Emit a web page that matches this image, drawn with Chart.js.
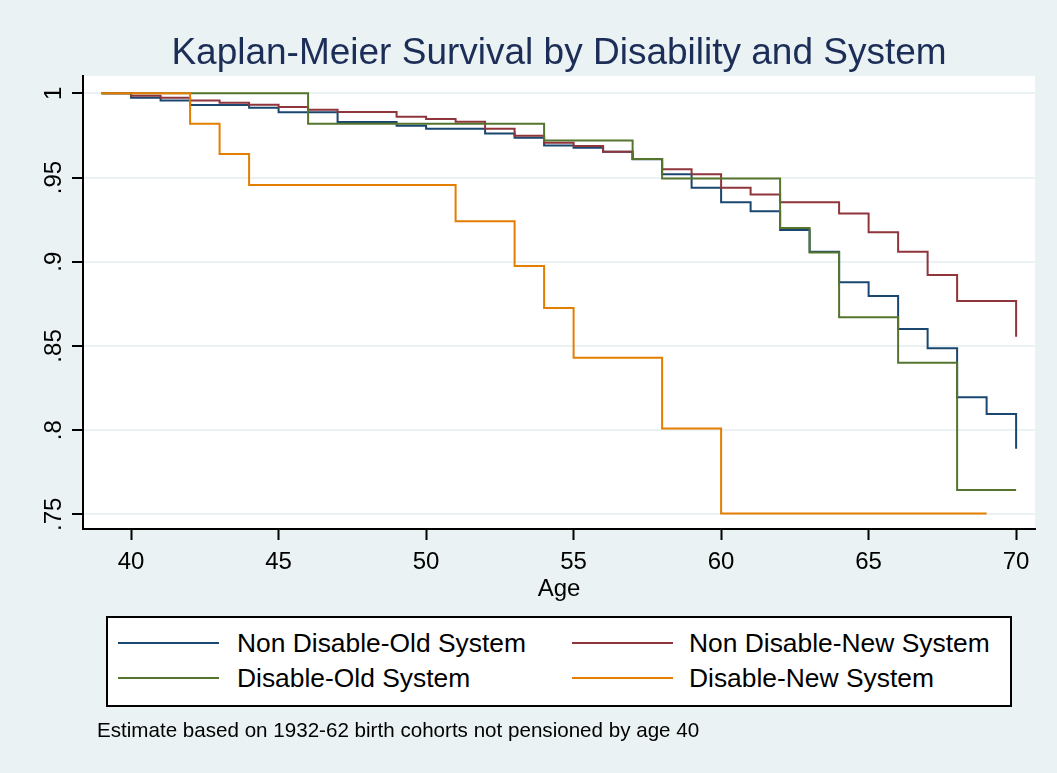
<!DOCTYPE html>
<html>
<head>
<meta charset="utf-8">
<script src="https://cdn.jsdelivr.net/npm/chart.js@4.4.1/dist/chart.umd.min.js"></script>
<style>
body{margin:0;background:#eaf2f3;font-family:"Liberation Sans",Arial,sans-serif;}
#wrap{position:relative;width:1057px;height:773px;overflow:hidden;}
#chart{position:absolute;left:0;top:0;}
#title{position:absolute;left:83px;width:952px;top:30px;text-align:center;font-size:37px;line-height:44px;color:#1c2e58;white-space:nowrap;}
#legend{position:absolute;left:106px;top:616px;width:902px;height:87px;border:2px solid #000;background:#fff;}
.item{position:absolute;font-size:26.4px;line-height:30px;color:#000;white-space:nowrap;}
.swatch{position:absolute;height:2px;width:101px;}
#note{position:absolute;left:97px;top:717.5px;font-size:20.6px;line-height:24px;color:#000;white-space:nowrap;}
</style>
</head>
<body>
<div id="wrap">
  <canvas id="chart" width="1057" height="773"></canvas>
  <div id="title">Kaplan-Meier Survival by Disability and System</div>
  <div id="legend"></div>
  <div id="note">Estimate based on 1932-62 birth cohorts not pensioned by age 40</div>
</div>
<script>
// survival steps (age at which the curve drops, new level)
const seriesNames=['Non Disable-Old System','Non Disable-New System','Disable-Old System','Disable-New System'];
const seriesColors=['#1a476f','#90353b','#55752f','#e37e00'];

const agesNonOld=[39,40,41,42,44,45,47,49,50,52,53,54,55,56,57,58,59,60,61,62,63,64,65,66,67,68,69,70];
const survNonOld=[1,0.9974,0.9958,0.9931,0.9915,0.9887,0.983,0.9808,0.979,0.9762,0.9736,0.9691,0.9677,0.9653,0.9608,0.952,0.944,0.9353,0.930,0.9188,0.906,0.8878,0.8796,0.860,0.8486,0.8195,0.8096,0.789];

const agesNonNew=[39,40,41,42,43,44,45,46,47,49,50,51,52,53,54,55,56,57,58,59,60,61,62,64,65,66,67,68,70];
const survNonNew=[1,0.9986,0.9974,0.9958,0.9944,0.9932,0.9919,0.9903,0.9889,0.9861,0.9847,0.9831,0.979,0.9748,0.9707,0.9687,0.9653,0.961,0.9549,0.952,0.944,0.940,0.9353,0.9287,0.9175,0.906,0.8921,0.8767,0.8555];

const agesDisOld=[39,46,54,57,58,62,63,64,66,68,70];
const survDisOld=[1,0.982,0.972,0.961,0.9495,0.92,0.9055,0.867,0.840,0.7645,0.7645];

const agesDisNew=[39,42,43,44,51,53,54,55,58,60,69];
const survDisNew=[1,0.982,0.964,0.9455,0.924,0.8975,0.8725,0.843,0.801,0.7505,0.7505];

const xTicks=[40,45,50,55,60,65,70];
const yTicks=[0.75,0.8,0.85,0.9,0.95,1];

const allAges=[agesNonOld,agesNonNew,agesDisOld,agesDisNew];
const allSurv=[survNonOld,survNonNew,survDisOld,survDisNew];

const BG='#eaf2f3';
const FONT='"Liberation Sans", Arial, sans-serif';

const plotBg={
  id:'plotBg',
  beforeDraw(chart){
    const {ctx,chartArea:a}=chart;
    ctx.save(); ctx.fillStyle='#fff'; ctx.fillRect(a.left,a.top,a.right-a.left,a.bottom-a.top); ctx.restore();
  }
};

const datasets=seriesNames.map((name,i)=>({
  label:name,
  data:allAges[i].map((a,j)=>({x:a,y:allSurv[i][j]})),
  borderColor:seriesColors[i],
  borderWidth:2,
  pointRadius:0,
  stepped:true,
  fill:false,
  order:4-i   // later series drawn on top, like Stata
}));

new Chart(document.getElementById('chart'),{
  type:'line',
  data:{datasets},
  plugins:[plotBg],
  options:{
    responsive:false,
    animation:false,
    devicePixelRatio:1,
    layout:{padding:{left:0,right:22,top:76,bottom:168}},
    plugins:{
      legend:{display:false},
      tooltip:{enabled:false},
      title:{display:false}
    },
    scales:{
      x:{
        type:'linear',
        min:38.37, max:70.64,
        afterBuildTicks(s){ s.ticks=xTicks.map(v=>({value:v})); },
        afterFit(s){ s.height=76; },
        grid:{drawOnChartArea:false,tickColor:'#000',tickLength:11,tickWidth:2},
        border:{color:'#000',width:2},
        ticks:{color:'#000',padding:8,font:{family:FONT,size:24},maxRotation:0,autoSkip:false},
        title:{display:true,text:'Age',color:'#000',font:{family:FONT,size:24},padding:{top:0,bottom:1}}
      },
      y:{
        type:'linear',
        min:0.7413, max:1.0103,
        afterBuildTicks(s){ s.ticks=yTicks.map(v=>({value:v})); },
        afterFit(s){ s.width=83; },
        grid:{color:BG,lineWidth:2,tickColor:'#000',tickLength:11,tickWidth:2},
        border:{color:'#000',width:2},
        ticks:{
          color:'#000',padding:1,minRotation:90,maxRotation:90,crossAlign:'center',autoSkip:false,
          font:{family:FONT,size:24},
          callback:v=>{ const r=Math.round(v*100)/100; return r===1?'1':String(r).replace(/^0/,''); }
        }
      }
    }
  }
});

// legend box, two columns like the Stata legend
const wrap=document.getElementById('wrap');
const colSwatchX=[118,572], colTextX=[237,689], rowY=[643,678];
seriesNames.forEach((name,i)=>{
  const col=i%2, row=Math.floor(i/2);
  const sw=document.createElement('div');
  sw.className='swatch';
  sw.style.left=colSwatchX[col]+'px';
  sw.style.top=(rowY[row]-1)+'px';
  sw.style.background=seriesColors[i];
  wrap.appendChild(sw);
  const t=document.createElement('div');
  t.className='item';
  t.textContent=name;
  t.style.left=colTextX[col]+'px';
  t.style.top=(rowY[row]-14.7)+'px';
  wrap.appendChild(t);
});
</script>
</body>
</html>
